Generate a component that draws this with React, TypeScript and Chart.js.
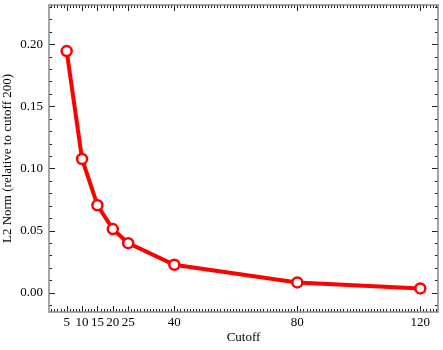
import React, { useEffect, useRef } from "react";
import { Chart, registerables } from "chart.js";

Chart.register(...registerables);

const cutoffs = [5, 10, 15, 20, 25, 40, 80, 120];
const l2Norms = [0.1944, 0.1076, 0.0704, 0.0512, 0.0399, 0.0225, 0.0083, 0.0035];
const xTickValues = [5, 10, 15, 20, 25, 40, 80, 120];
const yTickValues = [0.0, 0.05, 0.1, 0.15, 0.2];
const xMin = -0.75;
const xMax = 125.75;
const yMin = -0.0155;
const yMax = 0.2315;
const xMinorStep = 1;
const yMinorStep = 0.01;

const FONT = "'Liberation Serif', 'Times New Roman', serif";

const framePlugin = {
  id: "frameTicks",
  afterDatasetsDraw(chart: any) {
    const { ctx, chartArea: a, scales } = chart;
    const xs = scales.x;
    const ys = scales.y;
    ctx.save();
    ctx.strokeStyle = "#222";
    ctx.lineWidth = 1;
    ctx.beginPath();
    for (let v = Math.ceil(xMin); v <= xMax; v += xMinorStep) {
      const px = Math.round(xs.getPixelForValue(v)) + 0.5;
      const isMajor = xTickValues.includes(v);
      const len = isMajor ? 6 : 3;
      ctx.moveTo(px, a.bottom);
      ctx.lineTo(px, a.bottom - len);
      ctx.moveTo(px, a.top);
      ctx.lineTo(px, a.top + len);
    }
    const nMin = Math.ceil(yMin / yMinorStep - 1e-9);
    const nMax = Math.floor(yMax / yMinorStep + 1e-9);
    for (let n = nMin; n <= nMax; n++) {
      const v = n * yMinorStep;
      const py = Math.round(ys.getPixelForValue(v)) + 0.5;
      const isMajor = n % 5 === 0;
      const len = isMajor ? 6 : 3;
      ctx.moveTo(a.left, py);
      ctx.lineTo(a.left + len, py);
      ctx.moveTo(a.right, py);
      ctx.lineTo(a.right - len, py);
    }
    ctx.stroke();
    ctx.strokeStyle = "#888";
    ctx.lineWidth = 1.5;
    ctx.strokeRect(a.left, a.top, a.right - a.left, a.bottom - a.top);
    ctx.restore();
  },
};

export default function App() {
  const ref = useRef<HTMLCanvasElement | null>(null);
  useEffect(() => {
    document.body.style.margin = "0";
    const canvas = ref.current;
    if (!canvas) return;
    const chart = new Chart(canvas, {
      type: "line",
      data: {
        datasets: [
          {
            data: cutoffs.map((c, i) => ({ x: c, y: l2Norms[i] })),
            borderColor: "#ff0000",
            borderWidth: 4,
            backgroundColor: "#ffffff",
            pointBackgroundColor: "#ffffff",
            pointBorderColor: "#ff0000",
            pointBorderWidth: 2.5,
            pointRadius: 5,
            tension: 0,
            clip: false,
          },
        ],
      },
      options: {
        responsive: false,
        animation: false,
        events: [],
        layout: { padding: { top: 5, right: 5, left: 0, bottom: 0 } },
        plugins: {
          legend: { display: false },
          tooltip: { enabled: false },
        },
        scales: {
          x: {
            type: "linear",
            min: xMin,
            max: xMax,
            border: { display: false },
            grid: { display: false, drawTicks: false },
            afterBuildTicks: (s: any) => {
              s.ticks = xTickValues.map((v) => ({ value: v }));
            },
            afterFit: (s: any) => {
              s.height = 38;
              s.paddingLeft = 0;
              s.paddingRight = 0;
            },
            ticks: {
              autoSkip: false,
              maxRotation: 0,
              padding: 3,
              color: "#000",
              font: { family: FONT, size: 13 },
              callback: (v: any) => String(v),
            },
            title: {
              display: true,
              text: "Cutoff",
              color: "#000",
              font: { family: FONT, size: 13 },
              padding: { top: 1, bottom: 5 },
            },
          },
          y: {
            type: "linear",
            min: yMin,
            max: yMax,
            border: { display: false },
            grid: { display: false, drawTicks: false },
            afterBuildTicks: (s: any) => {
              s.ticks = yTickValues.map((v) => ({ value: v }));
            },
            afterFit: (s: any) => {
              s.width = 49;
              s.paddingTop = 0;
              s.paddingBottom = 0;
            },
            ticks: {
              autoSkip: false,
              padding: 6,
              color: "#000",
              font: { family: FONT, size: 13 },
              callback: (v: any) => Number(v).toFixed(2),
            },
            title: {
              display: true,
              text: "L2 Norm (relative to cutoff 200)",
              color: "#000",
              font: { family: FONT, size: 13 },
              padding: { top: 0, bottom: 0 },
            },
          },
        },
      },
      plugins: [framePlugin],
    });
    const meta: any = chart.getDatasetMeta(0);
    if (meta && meta.controller) {
      meta.controller.getMaxOverflow = () => 0;
      chart.update();
    }
    return () => chart.destroy();
  }, []);
  return <canvas ref={ref} width={443} height={350} style={{ display: "block" }} />;
}
